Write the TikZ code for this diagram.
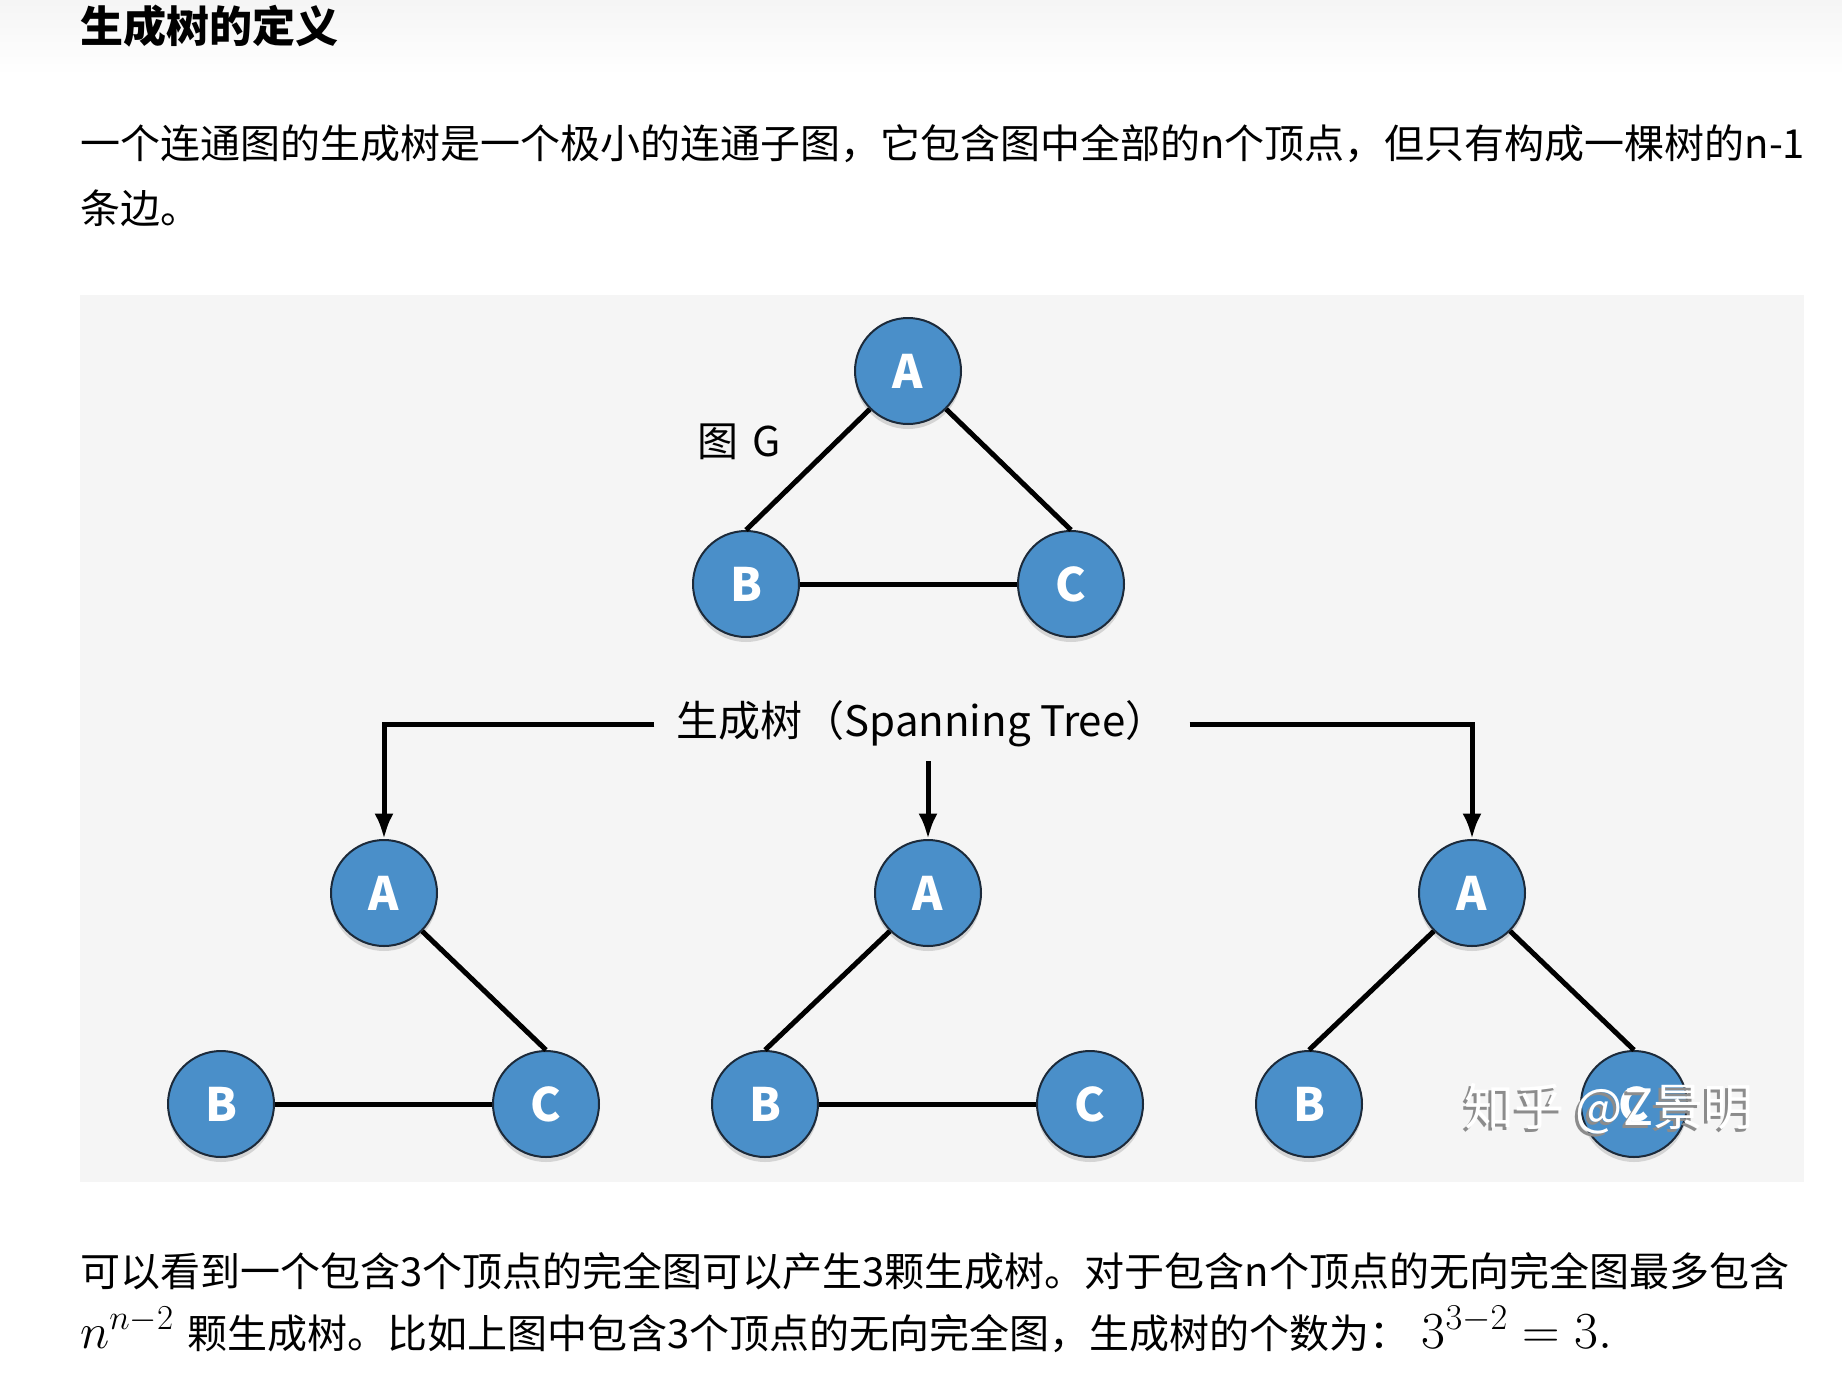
\RequirePackage{fix-cm}
\documentclass[tikz,border=0pt]{standalone}
\usepackage[no-math]{fontspec}
\setmainfont{Noto Sans CJK SC}
\usetikzlibrary{arrows.meta,positioning,shadows}
\definecolor{nodeblue}{RGB}{74,143,201}
\definecolor{nodeedge}{RGB}{28,42,58}
\definecolor{panelgray}{RGB}{245,245,245}
\newcommand{\pxfont}[1]{\fontsize{#1}{#1}\selectfont}

\begin{document}
\begin{tikzpicture}[x=1pt, y=-1pt, >=Latex,
  vertex/.style={circle,draw=nodeedge,line width=2pt,fill=nodeblue,minimum size=106pt,inner sep=0pt,
    text=white,font=\pxfont{46}\bfseries,drop shadow={shadow xshift=0pt,shadow yshift=-5pt,opacity=0.28}},
  link/.style={line width=5pt},
  body/.style={anchor=base west,inner sep=0pt,font=\pxfont{40}}]
\useasboundingbox (0,0) rectangle (1842,1376);
\fill[white] (0,0) rectangle (1842,1376);
\shade[top color=black!4,bottom color=white] (0,0) rectangle (1842,75);
% heading and first paragraph
\node[anchor=base west,inner sep=0pt,font=\pxfont{43}\bfseries] (title) at (80,42) {生成树的定义};
\node[body] (p1) at (80,158) {一个连通图的生成树是一个极小的连通子图，它包含图中全部的n个顶点，但只有构成一棵树的n-1};
\node[body] (p2) at (80,223) {条边。};
% figure panel
\fill[panelgray] (80,295) rectangle (1804,1182);
\node[vertex] (gA) at (908,371) {A};
\node[vertex] (gB) at (746,584) {B};
\node[vertex] (gC) at (1071,584) {C};
\node[font=\pxfont{41}] (gname) at (739,442) {图\,\,G};
\draw[link] (gA.south west)--(gB.north);\draw[link] (gA.south east)--(gC.north);\draw[link] (gB)--(gC);
\node[font=\pxfont{42},inner xsep=22pt,inner ysep=14pt] (st) at (922,724) {生成树（Spanning Tree）};
\foreach \i/\dx in {1/0,2/544,3/1088}{
  \node[vertex] (t\i A) at (384+\dx,893) {A};
  \node[vertex] (t\i B) at (221+\dx,1104) {B};
  \node[vertex] (t\i C) at (546+\dx,1104) {C};
}
\draw[link,->] (st.west) -| (t1A.north);
\draw[link,->] (st.south -| t2A.north) -- (t2A.north);
\draw[link,->] (st.east) -| (t3A.north);
\draw[link] (t1A.south east)--(t1C.north);\draw[link] (t1B)--(t1C);
\draw[link] (t2A.south west)--(t2B.north);\draw[link] (t2B)--(t2C);
\draw[link] (t3A.south west)--(t3B.north);\draw[link] (t3A.south east)--(t3C.north);
% watermark
\node[font=\pxfont{50},text=black!45] (wmshade) at (1606,1112) {知乎 @Z景明};
\node[font=\pxfont{50},text=white] (wm) at (1609,1109) {知乎 @Z景明};
% second paragraph
\node[body] (p3) at (80,1286) {可以看到一个包含3个顶点的完全图可以产生3颗生成树。对于包含n个顶点的无向完全图最多包含};
\node[body] (p4) at (80,1348) {{\pxfont{50}$n^{n-2}$}\hspace{14pt}颗生成树。比如上图中包含3个顶点的无向完全图，生成树的个数为：\hspace{12pt}{\pxfont{52}$3^{3-2}=3.$}};
\end{tikzpicture}
\end{document}
